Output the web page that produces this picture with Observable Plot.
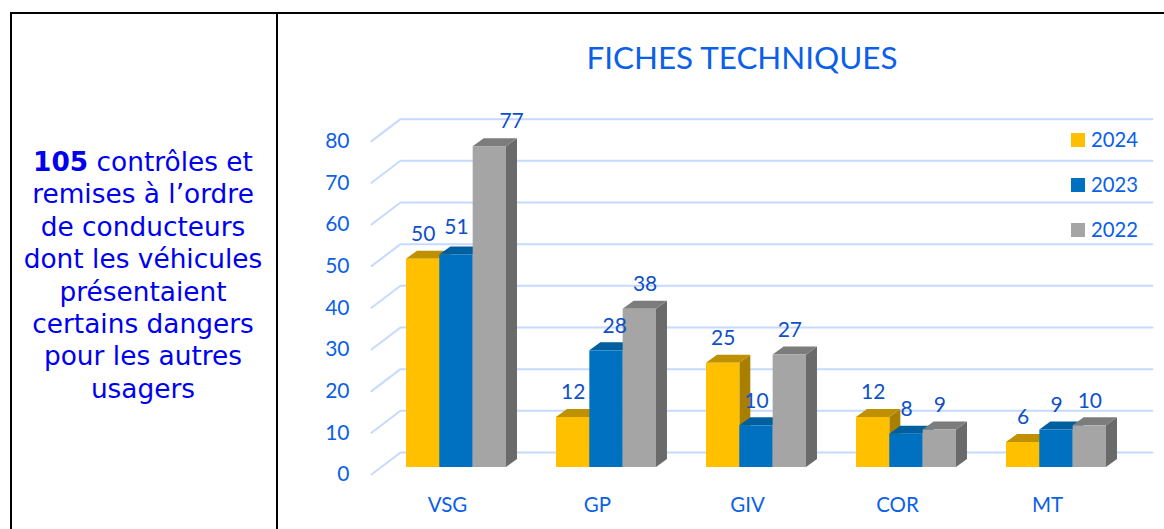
<!DOCTYPE html>
<html lang="fr">
<head>
<meta charset="utf-8">
<script src="https://cdn.jsdelivr.net/npm/d3@7"></script>
<script src="https://cdn.jsdelivr.net/npm/@observablehq/plot@0.6"></script>
<style>
html,body{margin:0;padding:0;background:#fff;overflow:hidden}
#page{position:relative;width:1164px;height:529px;overflow:hidden}
#frame{position:absolute;left:10px;top:12px;width:1200px;height:600px;border:2px solid #000;box-sizing:border-box}
#divider{position:absolute;left:276px;top:12px;width:2px;height:517px;background:#000}
#note{position:absolute;left:11px;top:146px;width:264px;text-align:center;font:26.4px/32.4px "DejaVu Sans",sans-serif;color:#0000f0}
#note b{font-weight:700}
#title{position:absolute;left:279px;top:37px;width:926px;text-align:center;font:31.4px/40px Lato,sans-serif;color:#0b5fe8;margin:0;font-weight:400}
#chart{position:absolute;left:279px;top:85px}
#legend{position:absolute;left:1071px;top:117px;font:20.3px/45px Lato,sans-serif;color:#0b5fe8}
#legend div{display:flex;align-items:center;height:45px}
#legend i{display:inline-block;width:14px;height:14px;margin-right:6px}
</style>
</head>
<body>
<div id="page">
<div id="frame"></div>
<div id="divider"></div>
<div id="note"><b>105</b> contrôles et<br>remises à l’ordre<br>de conducteurs<br>dont les véhicules<br>présentaient<br>certains dangers<br>pour les autres<br>usagers</div>
<h1 id="title">FICHES TECHNIQUES</h1>
<div id="chart"></div>
<div id="legend"></div>
</div>
<script>
const categories = ["VSG","GP","GIV","COR","MT"];
const years = ["2024","2023","2022"];
const values2024 = [50,12,25,12,6];
const values2023 = [51,28,10,8,9];
const values2022 = [77,38,27,9,10];
const yTicks = [0,10,20,30,40,50,60,70,80];
const faceColors = ["#ffc000","#0070c0","#a5a5a5"];
const topColors = ["#bf9000","#005f9e","#7c7c7c"];
const sideColors = ["#a87f00","#00508a","#6a6a6a"];

const seriesValues = [values2024, values2023, values2022];
const table = years.flatMap((year,s)=>categories.map((cat,c)=>({year,s,cat,c,v:seriesValues[s][c]})));

// 3-D projection expressed in scale units
const barW = 0.2222, depthX = 0.0733, depthY = 1.92;
const gridFront = -1.68, gridBack = 3.6;
const x0 = d => d.c + d.s*barW;
const labelShiftX = {"2022|VSG":0.145,"2023|GP":0.055,"2022|GP":0.035};
const labelShiftY = {"2023|VSG":0.7};

const marks = [];
// back wall + floor lines
const gridRows = yTicks.flatMap(t=>[
  {t,x:-0.2333,y:t+gridFront},
  {t,x:-0.04,y:t+gridBack},
  {t,x:4.9733,y:t+gridBack}
]);
marks.push(Plot.line(gridRows,{x:"x",y:"y",z:"t",stroke:"#c6daff",strokeWidth:2,curve:"linear"}));

// one layer per series, drawn left to right so that faces hide the neighbouring sides
years.forEach((year,s)=>{
  const rows = table.filter(d=>d.s===s);
  const side = rows.flatMap(d=>[
    {c:d.c,x:x0(d)+barW,y1:0,y2:d.v},
    {c:d.c,x:x0(d)+barW+depthX,y1:depthY,y2:d.v+depthY}
  ]);
  const top = rows.flatMap(d=>[
    {c:d.c,y:d.v,x1:x0(d),x2:x0(d)+barW},
    {c:d.c,y:d.v+depthY,x1:x0(d)+depthX,x2:x0(d)+barW+depthX}
  ]);
  marks.push(Plot.areaY(side,{x:"x",y1:"y1",y2:"y2",z:"c",fill:sideColors[s],curve:"linear"}));
  marks.push(Plot.areaX(top,{y:"y",x1:"x1",x2:"x2",z:"c",fill:topColors[s],curve:"linear"}));
  marks.push(Plot.rectY(rows,{x1:x0,x2:d=>x0(d)+barW,y1:0,y2:"v",fill:faceColors[s]}));
});

// value labels
marks.push(Plot.text(table,{
  x:d=>x0(d)+barW/2+(labelShiftX[d.year+"|"+d.cat]||0),
  y:d=>d.v+(labelShiftY[d.year+"|"+d.cat]||0),
  text:d=>String(d.v),
  dy:-25,
  fill:"#0f50c8",
  fontSize:21,
  fontFamily:"Lato, sans-serif"
}));

// axes
marks.push(Plot.axisY({ticks:yTicks,anchor:"left",tickSize:0,tickPadding:11,dy:7,label:null,
  fill:"#0b5fe8",fontSize:21,fontFamily:"Lato, sans-serif"}));
marks.push(Plot.axisX({ticks:categories.map((d,i)=>i),tickFormat:i=>categories[i],anchor:"bottom",tickSize:0,tickPadding:7,dx:41,label:null,
  fill:"#0b5fe8",fontSize:20.5,fontFamily:"Lato, sans-serif"}));

const chart = Plot.plot({
  width:885,height:444,
  marginLeft:81,marginRight:4,marginTop:15,marginBottom:39,
  style:{background:"transparent",overflow:"visible"},
  x:{type:"linear",domain:[-0.3067,5.0267]},
  y:{type:"linear",domain:[-5.52,88.07]},
  marks
});
document.getElementById("chart").append(chart);

const legend = d3.select("#legend");
years.forEach((y,i)=>{
  const row = legend.append("div");
  row.append("i").style("background",faceColors[i]);
  row.append("span").text(y);
});
</script>
</body>
</html>
